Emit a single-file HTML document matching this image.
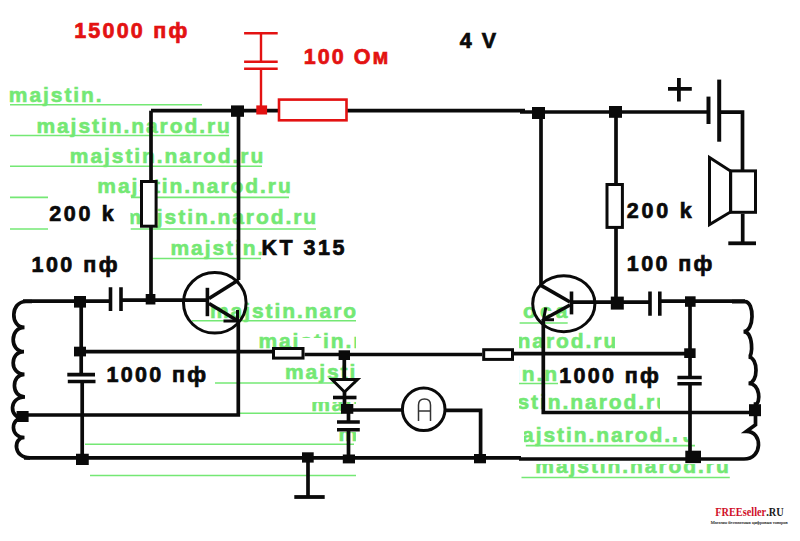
<!DOCTYPE html>
<html><head><meta charset="utf-8"><style>
html,body{margin:0;padding:0;background:#fff;width:800px;height:541px;overflow:hidden}
svg{display:block}
</style></head><body>
<svg width="800" height="541" viewBox="0 0 800 541">
<defs><clipPath id="g0"><rect x="0" y="70" width="103" height="40"/></clipPath><clipPath id="g4"><rect x="130.5" y="190" width="199.5" height="50"/></clipPath><clipPath id="g5"><rect x="150" y="230" width="111.5" height="40"/></clipPath><clipPath id="g6"><rect x="192" y="290" width="164" height="40"/></clipPath><clipPath id="g7"><rect x="250" y="320" width="50" height="40"/><rect x="300" y="320" width="22" height="18"/><rect x="322" y="320" width="34" height="40"/></clipPath><clipPath id="g8"><rect x="250" y="355" width="106" height="40"/></clipPath><clipPath id="g9"><rect x="312" y="402" width="29.600000000000023" height="18"/><rect x="341.6" y="402" width="14.399999999999977" height="2"/></clipPath><clipPath id="g10"><rect x="339" y="432" width="17" height="18"/></clipPath><clipPath id="g11"><rect x="519" y="325" width="96" height="27"/></clipPath><clipPath id="g12"><rect x="519" y="360" width="38" height="30"/></clipPath><clipPath id="g13"><rect x="519" y="390" width="141" height="22"/></clipPath><clipPath id="g14"><rect x="524" y="420" width="144" height="30"/><rect x="668" y="437" width="20" height="13"/></clipPath><clipPath id="g15"><rect x="521" y="464" width="210" height="18"/></clipPath></defs>
<rect width="800" height="541" fill="#fff"/>
<g font-family="Liberation Sans" font-weight="bold">
<text x="8.8" y="101.5" font-size="21" textLength="193.5" lengthAdjust="spacing" fill="#74e874" stroke="#74e874" stroke-width="0.6" clip-path="url(#g0)">majstin.narod.ru</text>
<text x="36.4" y="132.8" font-size="21" textLength="193.5" lengthAdjust="spacing" fill="#74e874" stroke="#74e874" stroke-width="0.6">majstin.narod.ru</text>
<text x="69.8" y="162.5" font-size="21" textLength="193.5" lengthAdjust="spacing" fill="#74e874" stroke="#74e874" stroke-width="0.6">majstin.narod.ru</text>
<text x="97.3" y="193.3" font-size="21" textLength="193.5" lengthAdjust="spacing" fill="#74e874" stroke="#74e874" stroke-width="0.6">majstin.narod.ru</text>
<text x="122.6" y="224.4" font-size="21" textLength="193.5" lengthAdjust="spacing" fill="#74e874" stroke="#74e874" stroke-width="0.6" clip-path="url(#g4)">majstin.narod.ru</text>
<text x="170.5" y="255.0" font-size="21" textLength="193.5" lengthAdjust="spacing" fill="#74e874" stroke="#74e874" stroke-width="0.6" clip-path="url(#g5)">majstin.narod.ru</text>
<text x="210.0" y="317.6" font-size="21" textLength="193.5" lengthAdjust="spacing" fill="#74e874" stroke="#74e874" stroke-width="0.6" clip-path="url(#g6)">majstin.narod.ru</text>
<text x="258.4" y="347.5" font-size="21" textLength="193.5" lengthAdjust="spacing" fill="#74e874" stroke="#74e874" stroke-width="0.6" clip-path="url(#g7)">majstin.narod.ru</text>
<text x="285.0" y="379.3" font-size="21" textLength="193.5" lengthAdjust="spacing" fill="#74e874" stroke="#74e874" stroke-width="0.6" clip-path="url(#g8)">majstin.narod.ru</text>
<text x="311.2" y="410.5" font-size="21" textLength="193.5" lengthAdjust="spacing" fill="#74e874" stroke="#74e874" stroke-width="0.6" clip-path="url(#g9)">majstin.narod.ru</text>
<text x="338.4" y="441.0" font-size="21" textLength="193.5" lengthAdjust="spacing" fill="#74e874" stroke="#74e874" stroke-width="0.6" clip-path="url(#g10)">majstin.narod.ru</text>
<text x="422.8" y="348.4" font-size="21" textLength="193.5" lengthAdjust="spacing" fill="#74e874" stroke="#74e874" stroke-width="0.6" clip-path="url(#g11)">majstin.narod.ru</text>
<text x="449.5" y="380.7" font-size="21" textLength="193.5" lengthAdjust="spacing" fill="#74e874" stroke="#74e874" stroke-width="0.6" clip-path="url(#g12)">majstin.narod.ru</text>
<text x="475.5" y="409.0" font-size="21" textLength="193.5" lengthAdjust="spacing" fill="#74e874" stroke="#74e874" stroke-width="0.6" clip-path="url(#g13)">majstin.narod.ru</text>
<text x="501.5" y="442.4" font-size="21" textLength="193.5" lengthAdjust="spacing" fill="#74e874" stroke="#74e874" stroke-width="0.6" clip-path="url(#g14)">majstin.narod.ru</text>
<text x="535.3" y="473.2" font-size="21" textLength="193.5" lengthAdjust="spacing" fill="#74e874" stroke="#74e874" stroke-width="0.6" clip-path="url(#g15)">majstin.narod.ru</text>
<text x="523" y="318.2" font-size="21" textLength="44.5" lengthAdjust="spacing" fill="#74e874" stroke="#74e874" stroke-width="0.6">oca</text>
<path d="M10,104.7H202" stroke="#74e874" stroke-width="1.6"/>
<path d="M10,135.5H229" stroke="#74e874" stroke-width="1.6"/>
<path d="M10,166.3H262" stroke="#74e874" stroke-width="1.6"/>
<path d="M10,197.4H48" stroke="#74e874" stroke-width="1.6"/>
<path d="M131,197.4H289" stroke="#74e874" stroke-width="1.6"/>
<path d="M10,229H48" stroke="#74e874" stroke-width="1.6"/>
<path d="M130.7,229H316" stroke="#74e874" stroke-width="1.6"/>
<path d="M150,258.5H261" stroke="#74e874" stroke-width="1.6"/>
<path d="M192,320.8H356" stroke="#74e874" stroke-width="1.6"/>
<path d="M215,383H356" stroke="#74e874" stroke-width="1.6"/>
<path d="M240,413.3H341.6" stroke="#74e874" stroke-width="1.6"/>
<path d="M85,444.3H354" stroke="#74e874" stroke-width="1.6"/>
<path d="M90,475.5H356" stroke="#74e874" stroke-width="1.6"/>
<path d="M519.6,323H567.7" stroke="#74e874" stroke-width="1.6"/>
<path d="M519,383.5H558" stroke="#74e874" stroke-width="1.6"/>
<path d="M525.8,445.6H695" stroke="#74e874" stroke-width="1.6"/>
<path d="M521.5,477.5H729.8" stroke="#74e874" stroke-width="1.6"/>
</g>
<path d="M151,110.7H525" stroke="#0a0a0a" stroke-width="3.7" fill="none" stroke-linecap="butt" stroke-linejoin="miter"/>
<path d="M520,112H708.5" stroke="#0a0a0a" stroke-width="3.7" fill="none" stroke-linecap="butt" stroke-linejoin="miter"/>
<path d="M151,110.7V299.6" stroke="#0a0a0a" stroke-width="3.7" fill="none" stroke-linecap="butt" stroke-linejoin="miter"/>
<rect x="141.5" y="181.5" width="14.599999999999994" height="44.69999999999999" fill="#fff" stroke="#0a0a0a" stroke-width="3"/>
<ellipse cx="214.8" cy="302.8" rx="31.3" ry="30.3" fill="none" stroke="#0a0a0a" stroke-width="3"/>
<path d="M238.5,110.7V280" stroke="#0a0a0a" stroke-width="3.7" fill="none" stroke-linecap="butt" stroke-linejoin="miter"/>
<path d="M209,298.5L238.5,280" stroke="#0a0a0a" stroke-width="3.7" fill="none" stroke-linecap="butt" stroke-linejoin="miter"/>
<path d="M209,303.5L238,321" stroke="#0a0a0a" stroke-width="3.7" fill="none" stroke-linecap="butt" stroke-linejoin="miter"/>
<path d="M237.5,310V321H223.5" stroke="#0a0a0a" stroke-width="3" fill="none" stroke-linecap="butt" stroke-linejoin="miter"/>
<path d="M238.3,320V415H23" stroke="#0a0a0a" stroke-width="3.7" fill="none" stroke-linecap="butt" stroke-linejoin="miter"/>
<path d="M207.4,287.8V316.2" stroke="#0a0a0a" stroke-width="3.6" fill="none" stroke-linecap="butt" stroke-linejoin="miter"/>
<path d="M121,300.2H207.4" stroke="#0a0a0a" stroke-width="3.7" fill="none" stroke-linecap="butt" stroke-linejoin="miter"/>
<path d="M23,301.1H110.5" stroke="#0a0a0a" stroke-width="3.7" fill="none" stroke-linecap="butt" stroke-linejoin="miter"/>
<path d="M110.5,287.3V311M121,287.3V311" stroke="#0a0a0a" stroke-width="3.6" fill="none" stroke-linecap="butt" stroke-linejoin="miter"/>
<path d="M81.2,301V374.6M82.2,381.5V458" stroke="#0a0a0a" stroke-width="3.7" fill="none" stroke-linecap="butt" stroke-linejoin="miter"/>
<path d="M67.3,374.6H95M67.8,381.5H95.5" stroke="#0a0a0a" stroke-width="3.6" fill="none" stroke-linecap="butt" stroke-linejoin="miter"/>
<path d="M81,351.7H272" stroke="#0a0a0a" stroke-width="3.7" fill="none" stroke-linecap="butt" stroke-linejoin="miter"/>
<rect x="273.5" y="348.5" width="29.5" height="9.600000000000023" fill="#fff" stroke="#0a0a0a" stroke-width="3"/>
<path d="M304.5,354.5H482.2" stroke="#0a0a0a" stroke-width="3.7" fill="none" stroke-linecap="butt" stroke-linejoin="miter"/>
<rect x="483.7" y="349.7" width="28.80000000000001" height="9.699999999999989" fill="#fff" stroke="#0a0a0a" stroke-width="3"/>
<path d="M514,353.6H690" stroke="#0a0a0a" stroke-width="3.7" fill="none" stroke-linecap="butt" stroke-linejoin="miter"/>
<path d="M344.3,355V378" stroke="#0a0a0a" stroke-width="3.7" fill="none" stroke-linecap="butt" stroke-linejoin="miter"/>
<path d="M332,379.5H357.5L344.5,392Z" stroke="#0a0a0a" stroke-width="3" fill="#fff" stroke-linecap="butt" stroke-linejoin="miter"/>
<path d="M333,397.5H356.5" stroke="#0a0a0a" stroke-width="3.6" fill="none" stroke-linecap="butt" stroke-linejoin="miter"/>
<path d="M344.5,392V405" stroke="#0a0a0a" stroke-width="3.7" fill="none" stroke-linecap="butt" stroke-linejoin="miter"/>
<path d="M348.5,409V422" stroke="#0a0a0a" stroke-width="3.7" fill="none" stroke-linecap="butt" stroke-linejoin="miter"/>
<path d="M337,422H359.8M337,429.8H359.8" stroke="#0a0a0a" stroke-width="3.6" fill="none" stroke-linecap="butt" stroke-linejoin="miter"/>
<path d="M348.5,429.8V458" stroke="#0a0a0a" stroke-width="3.7" fill="none" stroke-linecap="butt" stroke-linejoin="miter"/>
<path d="M347,410H402" stroke="#0a0a0a" stroke-width="3.7" fill="none" stroke-linecap="butt" stroke-linejoin="miter"/>
<circle cx="423.7" cy="409.3" r="21.3" fill="#fff" stroke="#0a0a0a" stroke-width="3"/>
<path d="M418.5,421V405Q418.5,399 424.5,399Q430.5,399 430.5,405V421M418.5,411H430.5" stroke="#333" stroke-width="1.5" fill="none" stroke-linecap="butt" stroke-linejoin="miter"/>
<path d="M445,410.3H480.6V458" stroke="#0a0a0a" stroke-width="3.7" fill="none" stroke-linecap="butt" stroke-linejoin="miter"/>
<path d="M24,457.8H521M519,459H744" stroke="#0a0a0a" stroke-width="3.7" fill="none" stroke-linecap="butt" stroke-linejoin="miter"/>
<path d="M308,458V497" stroke="#0a0a0a" stroke-width="3.7" fill="none" stroke-linecap="butt" stroke-linejoin="miter"/>
<path d="M294.3,497H324.7" stroke="#0a0a0a" stroke-width="3.8" fill="none" stroke-linecap="butt" stroke-linejoin="miter"/>
<ellipse cx="563.8" cy="303.7" rx="31.1" ry="28" fill="none" stroke="#0a0a0a" stroke-width="3"/>
<path d="M541,112V285.3" stroke="#0a0a0a" stroke-width="3.7" fill="none" stroke-linecap="butt" stroke-linejoin="miter"/>
<path d="M541,285.3L570,302" stroke="#0a0a0a" stroke-width="3.7" fill="none" stroke-linecap="butt" stroke-linejoin="miter"/>
<path d="M571.5,291.5V314.4" stroke="#0a0a0a" stroke-width="3.6" fill="none" stroke-linecap="butt" stroke-linejoin="miter"/>
<path d="M570,305L543.5,319.5" stroke="#0a0a0a" stroke-width="3.7" fill="none" stroke-linecap="butt" stroke-linejoin="miter"/>
<path d="M545.8,307.4L543.5,319.8H554" stroke="#0a0a0a" stroke-width="3" fill="none" stroke-linecap="butt" stroke-linejoin="miter"/>
<path d="M543.3,319V412.5H749" stroke="#0a0a0a" stroke-width="3.7" fill="none" stroke-linecap="butt" stroke-linejoin="miter"/>
<path d="M571.5,302.2H650" stroke="#0a0a0a" stroke-width="3.7" fill="none" stroke-linecap="butt" stroke-linejoin="miter"/>
<path d="M650,291.4V315.8M659.8,291.4V315.8" stroke="#0a0a0a" stroke-width="3.6" fill="none" stroke-linecap="butt" stroke-linejoin="miter"/>
<path d="M659.8,301.1H745" stroke="#0a0a0a" stroke-width="3.7" fill="none" stroke-linecap="butt" stroke-linejoin="miter"/>
<path d="M616,110.8V301.5" stroke="#0a0a0a" stroke-width="3.7" fill="none" stroke-linecap="butt" stroke-linejoin="miter"/>
<rect x="607.0" y="184.5" width="15.399999999999977" height="42.900000000000006" fill="#fff" stroke="#0a0a0a" stroke-width="3"/>
<path d="M690,301V377.5M690,383.8V459" stroke="#0a0a0a" stroke-width="3.7" fill="none" stroke-linecap="butt" stroke-linejoin="miter"/>
<path d="M677.4,377.5H701.7M677.4,383.8H701.7" stroke="#0a0a0a" stroke-width="3.6" fill="none" stroke-linecap="butt" stroke-linejoin="miter"/>
<path d="M708.5,96.6V124" stroke="#0a0a0a" stroke-width="4" fill="none" stroke-linecap="butt" stroke-linejoin="miter"/>
<path d="M719.2,79.6V141.7" stroke="#0a0a0a" stroke-width="4" fill="none" stroke-linecap="butt" stroke-linejoin="miter"/>
<path d="M719.2,112.2H742.5V171" stroke="#0a0a0a" stroke-width="3.7" fill="none" stroke-linecap="butt" stroke-linejoin="miter"/>
<rect x="730.7" y="170.9" width="24.799999999999955" height="41.400000000000006" fill="#fff" stroke="#0a0a0a" stroke-width="3"/>
<path d="M709.5,157.5L730.5,171V212L709.5,224.5Z" stroke="#0a0a0a" stroke-width="3" fill="#fff" stroke-linecap="butt" stroke-linejoin="miter"/>
<path d="M742.7,213.8V243.3" stroke="#0a0a0a" stroke-width="3.7" fill="none" stroke-linecap="butt" stroke-linejoin="miter"/>
<path d="M728.3,243.3H756" stroke="#0a0a0a" stroke-width="3.8" fill="none" stroke-linecap="butt" stroke-linejoin="miter"/>
<path d="M668,88.9H691.8M678.9,78.1V101.4" stroke="#0a0a0a" stroke-width="3.8" fill="none" stroke-linecap="butt" stroke-linejoin="miter"/>
<path d="M32,301.5H26C10,301.5 10,327.4 24.5,327.4C9.5,327.4 9.5,351.6 24,351.6C9.5,351.6 9.5,374.3 24.5,374.3C11,374.3 11,397 25,397C8.7,397 8.7,418 23,418C10,418 10,437.5 24.5,437.5C13,437.5 13,457.8 30,457.8" stroke="#0a0a0a" stroke-width="3.7" fill="none" stroke-linecap="butt" stroke-linejoin="miter" stroke-linejoin="round"/>
<path d="M732,301.6H745C754.6,301.6 754.6,331.6 743.5,331.6C753.3,331.6 753.3,357 748.5,357C758.5,357 758.5,383.3 748.5,383.3C760.7,383.3 760.7,404 755.5,404V424.8L746.5,431.3C762.9,431.3 762.9,459 744,459" stroke="#0a0a0a" stroke-width="3.7" fill="none" stroke-linecap="butt" stroke-linejoin="miter" stroke-linejoin="round"/>
<rect x="231" y="105.4" width="13" height="11.399999999999991" fill="#0a0a0a"/>
<rect x="532" y="107" width="13" height="12" fill="#0a0a0a"/>
<rect x="609" y="106" width="13" height="11.799999999999997" fill="#0a0a0a"/>
<rect x="145.7" y="294" width="9.700000000000017" height="10.5" fill="#0a0a0a"/>
<rect x="74" y="296" width="12" height="11.600000000000023" fill="#0a0a0a"/>
<rect x="74" y="346.7" width="12" height="9.699999999999989" fill="#0a0a0a"/>
<rect x="16.6" y="411" width="12.0" height="11" fill="#0a0a0a"/>
<rect x="76" y="453.75" width="12.75" height="11.25" fill="#0a0a0a"/>
<rect x="338.6" y="350.3" width="11.399999999999977" height="9.699999999999989" fill="#0a0a0a"/>
<rect x="341" y="404" width="12.300000000000011" height="9.800000000000011" fill="#0a0a0a"/>
<rect x="342.8" y="454.5" width="12.199999999999989" height="8.899999999999977" fill="#0a0a0a"/>
<rect x="302" y="452.3" width="11.699999999999989" height="10.300000000000011" fill="#0a0a0a"/>
<rect x="474" y="454" width="12" height="9.300000000000011" fill="#0a0a0a"/>
<rect x="685.3" y="450.7" width="15.700000000000045" height="12.400000000000034" fill="#0a0a0a"/>
<rect x="610.8" y="296.6" width="13.0" height="13.0" fill="#0a0a0a"/>
<rect x="685" y="296.3" width="10.600000000000023" height="10.5" fill="#0a0a0a"/>
<rect x="684.2" y="348.3" width="11.399999999999977" height="9.699999999999989" fill="#0a0a0a"/>
<rect x="749" y="404.2" width="12" height="12.0" fill="#0a0a0a"/>
<path d="M244.1,33.2H277.7M244.1,61.7H277.7M244.1,68.8H277.7" stroke="#e31212" stroke-width="2.4" fill="none" stroke-linecap="butt" stroke-linejoin="miter"/>
<path d="M261,33.2V61.7M261,68.8V110" stroke="#e31212" stroke-width="2.4" fill="none" stroke-linecap="butt" stroke-linejoin="miter"/>
<rect x="279.0" y="99.6" width="67.50000000000003" height="20.699999999999996" fill="#fff" stroke="#e31212" stroke-width="2.6"/>
<rect x="256.3" y="105.4" width="10.800000000000011" height="9.099999999999994" fill="#e31212"/>
<g font-family="Liberation Sans" font-weight="bold" font-size="21.5">
<text x="459.75" y="47.5" textLength="36.25" lengthAdjust="spacing" fill="#0a0a0a" stroke="#0a0a0a" stroke-width="0.7">4 V</text>
<text x="74.2" y="37.5" textLength="113.0" lengthAdjust="spacing" fill="#e31212" stroke="#e31212" stroke-width="0.7">15000 пф</text>
<text x="303.75" y="63.75" textLength="84.75" lengthAdjust="spacing" fill="#e31212" stroke="#e31212" stroke-width="0.7">100 Ом</text>
<text x="49.2" y="221.1" textLength="64.5" lengthAdjust="spacing" fill="#0a0a0a" stroke="#0a0a0a" stroke-width="0.7">200 k</text>
<text x="261.4" y="254.6" textLength="83.0" lengthAdjust="spacing" fill="#0a0a0a" stroke="#0a0a0a" stroke-width="0.7">KT 315</text>
<text x="31.5" y="271.5" textLength="86.0" lengthAdjust="spacing" fill="#0a0a0a" stroke="#0a0a0a" stroke-width="0.7">100 пф</text>
<text x="106.5" y="382.2" textLength="99.5" lengthAdjust="spacing" fill="#0a0a0a" stroke="#0a0a0a" stroke-width="0.7">1000 пф</text>
<text x="626.8" y="218.1" textLength="65.0" lengthAdjust="spacing" fill="#0a0a0a" stroke="#0a0a0a" stroke-width="0.7">200 k</text>
<text x="626.8" y="270.8" textLength="85.5" lengthAdjust="spacing" fill="#0a0a0a" stroke="#0a0a0a" stroke-width="0.7">100 пф</text>
<text x="559.3" y="383.2" textLength="99.5" lengthAdjust="spacing" fill="#0a0a0a" stroke="#0a0a0a" stroke-width="0.7">1000 пф</text>
</g>
<g font-family="Liberation Serif">
<text x="715.2" y="515.8" font-size="11.5" font-weight="bold" fill="#d0102a" textLength="51" lengthAdjust="spacingAndGlyphs">FREEseller</text>
<text x="766.2" y="515.8" font-size="11.5" font-weight="bold" fill="#1a1a1a" textLength="17.5" lengthAdjust="spacingAndGlyphs">.RU</text>
<text x="710.7" y="523.8" font-size="4.8" fill="#333" stroke="#333" stroke-width="0.15" textLength="77" lengthAdjust="spacingAndGlyphs">Магазин бесплатных цифровых товаров</text>
</g>
</svg></body></html>
